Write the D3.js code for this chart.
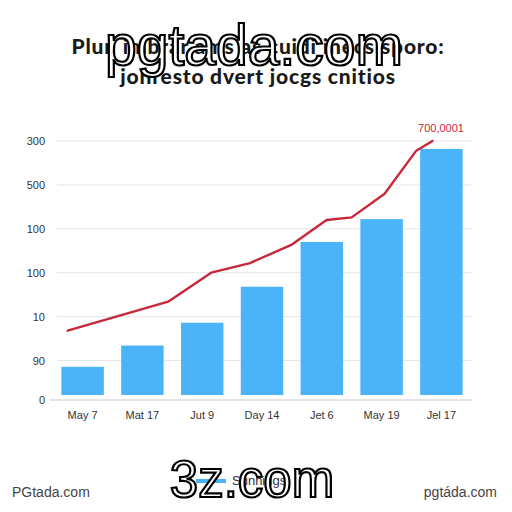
<!DOCTYPE html>
<html>
<head>
<meta charset="utf-8">
<script src="https://cdn.jsdelivr.net/npm/d3@7"></script>
<style>
  html, body { margin: 0; padding: 0; background: #ffffff; }
  svg { display: block; }
</style>
</head>
<body>
<script>
// ---- data ----
const categories = ["May 7", "Mat 17", "Jut 9", "Day 14", "Jet 6", "May 19", "Jel 17"];
const barValues = [42, 67, 93, 134, 185, 211, 291];
// line series: position along the category axis (index units) and value
const linePos = [-0.25, 1.43, 2.15, 2.8, 3.5, 4.08, 4.5, 5.05, 5.58, 5.85];
const lineValues = [84, 117, 150, 161, 182, 210, 213, 240, 289, 300];
const yTickValues = [0, 50, 100, 150, 200, 250, 300];
const yTickLabels = ["0", "90", "10", "100", "100", "500", "300"];
const titleLines = ["Plun imbrar ams as cuidi inecsisporo:", "jonresto dvert jocgs cnitios"];
const annotation = "700,0001";
const legendLabel = "Sunnings";

const W = 512, H = 512;
const svg = d3.select("body").append("svg").attr("width", W).attr("height", H);
svg.append("rect").attr("width", W).attr("height", H).attr("fill", "#fff");

const x = d3.scaleBand().domain(categories).range([53, 471]).paddingInner(0.29).paddingOuter(0.14);
const idx = d3.scaleLinear().domain([0, categories.length - 1])
  .range([x(categories[0]) + x.bandwidth() / 2, x(categories[categories.length - 1]) + x.bandwidth() / 2]);
const y = d3.scaleLinear().domain([0, 50, 300]).range([400, 360.5, 141]);

// y tick labels
const yAxis = d3.axisLeft(y).tickValues(yTickValues)
  .tickFormat((d, i) => yTickLabels[i]).tickSize(0).tickPadding(0);
const gy = svg.append("g").attr("transform", "translate(45,0)").call(yAxis);
gy.select(".domain").remove();
gy.selectAll("text").attr("font-family", "Liberation Sans, Arial, sans-serif")
  .attr("font-size", 11).attr("fill", "#333");

// gridlines
svg.append("g").selectAll("line").data(yTickValues.slice(1)).join("line")
  .attr("x1", 57).attr("x2", 471)
  .attr("y1", d => y(d)).attr("y2", d => y(d))
  .attr("stroke", "#e6e6e6").attr("stroke-width", 1);
svg.append("line").attr("x1", 50).attr("x2", 472).attr("y1", y(0)).attr("y2", y(0))
  .attr("stroke", "#dcdcdc").attr("stroke-width", 1.5);

// bars
svg.append("g").selectAll("rect").data(barValues).join("rect")
  .attr("x", (d, i) => x(categories[i]))
  .attr("width", x.bandwidth())
  .attr("y", d => y(d))
  .attr("height", d => y(0) - 5 - y(d))
  .attr("fill", "#4bb3f8");

// x axis labels
const xAxis = d3.axisBottom(x).tickSize(0).tickPadding(0);
const gx = svg.append("g").attr("transform", "translate(0,411)").call(xAxis);
gx.select(".domain").remove();
gx.selectAll("text").attr("font-family", "Liberation Sans, Arial, sans-serif")
  .attr("font-size", 11).attr("fill", "#333");

// line
const line = d3.line().x((d, i) => idx(linePos[i])).y(d => y(d));
svg.append("path").datum(lineValues).attr("d", line)
  .attr("fill", "none").attr("stroke", "#c8273b").attr("stroke-width", 2.4)
  .attr("stroke-linejoin", "round").attr("stroke-linecap", "round");

svg.append("text").attr("x", 441).attr("y", 132).attr("text-anchor", "middle")
  .attr("font-family", "Liberation Sans, Arial, sans-serif").attr("font-size", 11)
  .attr("fill", "#c8273b").text(annotation);

// title
svg.append("g").selectAll("text").data(titleLines).join("text")
  .attr("x", 258).attr("y", (d, i) => 54 + i * 30)
  .attr("text-anchor", "middle")
  .attr("font-family", "Lato, 'Open Sans', sans-serif").attr("font-weight", 900)
  .attr("font-size", 21).attr("letter-spacing", 0.8)
  .attr("fill", "#1a1a1a").text(d => d);

// legend
svg.append("line").attr("x1", 196).attr("x2", 226).attr("y1", 481).attr("y2", 481)
  .attr("stroke", "#4bb3f8").attr("stroke-width", 4);
svg.append("text").attr("x", 232).attr("y", 485)
  .attr("font-family", "Liberation Sans, Arial, sans-serif").attr("font-size", 13)
  .attr("fill", "#333").text(legendLabel);

// corner texts
svg.append("text").attr("x", 12).attr("y", 497)
  .attr("font-family", "Liberation Sans, Arial, sans-serif").attr("font-size", 14)
  .attr("fill", "#444").text("PGtada.com");
svg.append("text").attr("x", 497).attr("y", 497).attr("text-anchor", "end")
  .attr("font-family", "Liberation Sans, Arial, sans-serif").attr("font-size", 14)
  .attr("fill", "#444").text("pgtáda.com");

// overlay marks
svg.append("text").attr("x", 254).attr("y", 65).attr("text-anchor", "middle")
  .attr("font-family", "Liberation Sans, Arial, sans-serif").attr("font-size", 57)
  .attr("fill", "#fff").attr("stroke", "#000").attr("stroke-width", 2.2)
  .text("pgtada.com");
svg.append("text").attr("x", 252).attr("y", 497).attr("text-anchor", "middle")
  .attr("font-family", "Liberation Sans, Arial, sans-serif").attr("font-size", 51)
  .attr("fill", "#fff").attr("stroke", "#000").attr("stroke-width", 2.2)
  .text("3z.com");
</script>
</body>
</html>
